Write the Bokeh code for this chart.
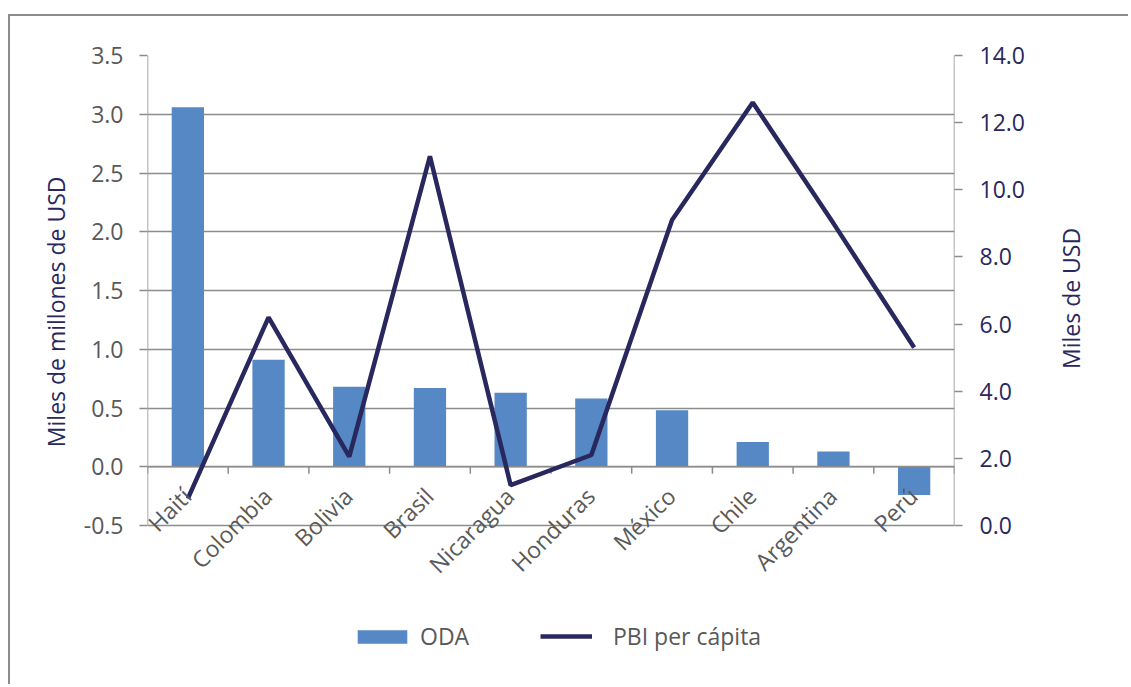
import numpy as np
from bokeh.plotting import figure
from bokeh.models import (Range1d, FactorRange, LinearAxis, FixedTicker, NumeralTickFormatter,
                          ColumnDataSource, Legend, LegendItem, LabelSet, Title)
from bokeh.core.properties import value
from bokeh.embed import file_html
from bokeh.resources import INLINE

countries = ["Haití", "Colombia", "Bolivia", "Brasil", "Nicaragua", "Honduras",
             "México", "Chile", "Argentina", "Perú"]
oda = [3.06, 0.91, 0.68, 0.67, 0.63, 0.58, 0.48, 0.21, 0.13, -0.24]
pbi = [0.8, 6.2, 2.05, 11.0, 1.2, 2.1, 9.1, 12.6, 9.0, 5.3]
left_ticks = [-0.5, 0.0, 0.5, 1.0, 1.5, 2.0, 2.5, 3.0, 3.5]
right_ticks = [0, 2, 4, 6, 8, 10, 12, 14]

FONT = "Open Sans"
FS = "23px"
GRAY = "#595959"
NAVY = "#28285E"
AXC = "#8c8c8c"

W, H = 1120, 670
MBL, MBT, MBR, MBB = 137, 39, 176, 4
frame_h = H - MBT - MBB
px_per_unit = 117.5          # left axis: pixels per unit
ylo = left_ticks[-1] - frame_h / px_per_unit
ratio = (right_ticks[-1] - right_ticks[0]) / (left_ticks[-1] - left_ticks[0])
rlo = right_ticks[0] + (ylo - left_ticks[0]) * ratio

p = figure(width=W, height=H, x_range=FactorRange(*countries, range_padding=0),
           y_range=Range1d(ylo, left_ticks[-1]), output_backend="svg", toolbar_location=None,
           min_border_left=MBL, min_border_right=MBR, min_border_top=MBT, min_border_bottom=MBB)
p.styles = {"border-top": "2px solid #8c8c8c", "border-left": "2px solid #8c8c8c",
            "margin-top": "14px", "margin-left": "8px"}
p.outline_line_color = None
p.xgrid.visible = False
p.xaxis.visible = False
p.ygrid.ticker = FixedTicker(ticks=left_ticks)
p.ygrid.grid_line_color = AXC
p.ygrid.grid_line_width = 1.5

p.extra_y_ranges = {"r": Range1d(rlo, right_ticks[-1])}


def style_axis(ax, tick_col):
    ax.axis_line_color = None
    ax.major_tick_line_color = AXC
    ax.major_tick_line_width = 1.5
    ax.major_tick_out = 8
    ax.major_tick_in = 0
    ax.minor_tick_line_color = None
    ax.major_label_text_font = FONT
    ax.major_label_text_font_size = FS
    ax.major_label_text_color = tick_col
    ax.axis_label_text_font = FONT
    ax.axis_label_text_font_size = FS
    ax.axis_label_text_font_style = "normal"
    ax.axis_label_text_color = NAVY


ya = p.yaxis[0]
ya.ticker = FixedTicker(ticks=left_ticks)
ya.formatter = NumeralTickFormatter(format="0.0")
style_axis(ya, GRAY)
ya.major_label_standoff = 16

ltitle = Title(text="Miles de millones de USD", align="right", offset=121, vertical_align="middle",
               standoff=16, text_font=FONT, text_font_size=FS, text_font_style="normal",
               text_color=NAVY)
p.add_layout(ltitle, "left")

ra = LinearAxis(y_range_name="r", ticker=FixedTicker(ticks=right_ticks),
                formatter=NumeralTickFormatter(format="0.0"), axis_label="Miles de USD")
style_axis(ra, NAVY)
ra.major_label_standoff = 17
ra.axis_label_standoff = 43
ra.axis_label_orientation = np.pi / 2
p.add_layout(ra, "right")

src = ColumnDataSource(dict(x=countries, oda=oda, pbi=pbi))
bars = p.vbar(x="x", top="oda", bottom=0, width=0.4, source=src, fill_color="#5588C4", line_color=None)

# axis lines (left, right) and category axis at y = 0
first, last = countries[0], countries[-1]
alines = ColumnDataSource(dict(
    x0=[(first, -0.5), (last, 0.5), (first, -0.5)],
    x1=[(first, -0.5), (last, 0.5), (last, 0.5)],
    y0=[left_ticks[0], left_ticks[0], 0.0],
    y1=[left_ticks[-1], left_ticks[-1], 0.0]))
p.segment(x0="x0", x1="x1", y0="y0", y1="y1", source=alines, line_color=AXC, line_width=1.5)

bx = [(c, -0.5) for c in countries] + [(last, 0.5)]
tsrc = ColumnDataSource(dict(x=bx, y0=[0.0] * len(bx), y1=[-7 / px_per_unit] * len(bx)))
p.segment(x0="x", x1="x", y0="y0", y1="y1", source=tsrc, line_color=AXC, line_width=1.5)

line = p.line(x="x", y="pbi", source=src, y_range_name="r", line_color=NAVY, line_width=4.5)

lsrc = ColumnDataSource(dict(x=countries, y=[0.0] * len(countries), t=countries))
labels = LabelSet(x="x", y="y", text="t", source=lsrc, angle=np.pi / 4, x_offset=-1, y_offset=-25,
                  text_align="right", text_baseline="middle", text_font=value(FONT),
                  text_font_size=FS, text_color=GRAY)
p.add_layout(labels)

common = dict(orientation="horizontal", label_text_font=FONT, label_text_font_size=FS,
              label_text_color=GRAY, border_line_color=None, background_fill_alpha=0,
              padding=0, margin=0)
leg1 = Legend(items=[LegendItem(label="ODA", renderers=[bars])], location=(204, 30),
              glyph_width=62, glyph_height=17, label_standoff=7, **common)
leg2 = Legend(items=[LegendItem(label="PBI per cápita", renderers=[line])], location=(393, 30),
              glyph_width=52, glyph_height=14, label_standoff=21, **common)
p.add_layout(leg1)
p.add_layout(leg2)

open("out.html", "w").write(file_html(p, INLINE))
